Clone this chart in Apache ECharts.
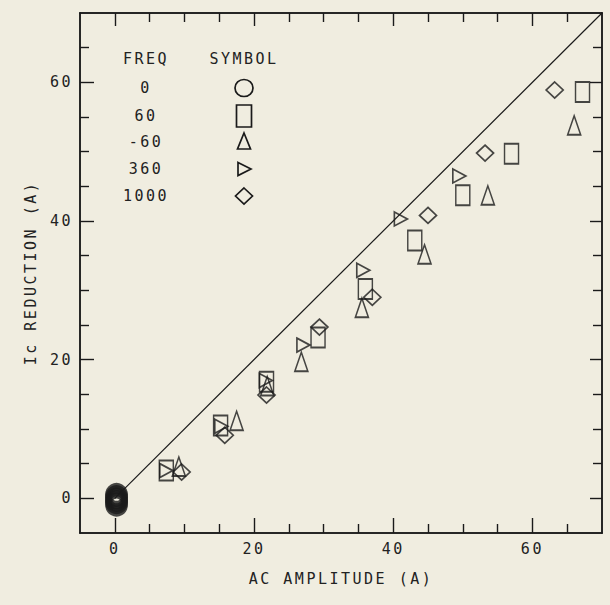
<!DOCTYPE html>
<html>
<head>
<meta charset="utf-8">
<script src="https://cdn.jsdelivr.net/npm/echarts@6/dist/echarts.min.js"></script>
<style>
  html, body { margin: 0; padding: 0; background: #f0ede0; }
  #chart { width: 610px; height: 605px; }
  /* plotter lettering is widely spaced */
  #chart text { letter-spacing: 2.5px; }
</style>
</head>
<body>
<div id="chart"></div>
<script>
// Axis tick positions (A)
const majorTicks = [0, 20, 40, 60];
const minorTicks = [5, 10, 15, 25, 30, 35, 45, 50, 55, 65];

// Ic reduction (A) versus AC amplitude (A), one list per frequency
const freq0 = [[0.25, 0.5], [0.25, 0.15], [0.25, -0.2], [0.25, -0.55], [0.25, -0.9]];
const freq60 = [[7.4, 4.0], [15.2, 10.5], [21.8, 16.8], [29.2, 23.2], [36.0, 30.2],
                [43.1, 37.2], [50.0, 43.7], [57.0, 49.7], [67.2, 58.6]];
const freqNeg60 = [[9.2, 4.6], [17.5, 11.2], [21.9, 16.2], [26.8, 19.7], [35.5, 27.5],
                   [44.5, 35.2], [53.6, 43.7], [66.0, 53.8]];
const freq360 = [[7.4, 4.0], [15.3, 10.4], [21.7, 17.0], [27.1, 22.1], [35.7, 32.9],
                 [41.1, 40.3], [49.5, 46.5]];
const freq1000 = [[9.6, 3.8], [15.8, 9.1], [21.8, 14.9], [29.4, 24.7], [37.0, 29.0],
                  [45.0, 40.8], [53.2, 49.8], [63.2, 58.9]];

// Ideal response: reduction equal to amplitude
const unityLine = [[0, 0], [70, 70]];

// Legend table rows
const legendHeader = ['FREQ', 'SYMBOL'];
const legendFreqs = ['0', '60', '-60', '360', '1000'];

const INK = '#1a1a1a';
const TEXT = '#222222';
const FONT = 'DejaVu Sans Mono';
const FONT_SIZE = 15;
const RIGHT_TRI = 'path://M0,0L10,5L0,10Z';

const chart = echarts.init(document.getElementById('chart'), null, { renderer: 'svg' });

function frameAxis(position, ticks, len, extra) {
  return Object.assign({
    type: 'value', position: position, min: -5, max: 70,
    axisLine: { show: true, onZero: false, lineStyle: { color: INK, width: 1.5 } },
    axisTick: { show: true, inside: true, length: len, customValues: ticks,
                lineStyle: { color: INK, width: 1.4 } },
    axisLabel: { show: false },
    splitLine: { show: false }
  }, extra || {});
}

const labelStyle = { color: TEXT, fontFamily: FONT, fontSize: FONT_SIZE };

const xAxes = [
  frameAxis('bottom', majorTicks, 15, {
    axisLabel: Object.assign({ show: true, customValues: majorTicks, margin: 8 }, labelStyle),
    name: 'AC AMPLITUDE (A)', nameLocation: 'middle', nameGap: 38,
    nameTextStyle: labelStyle
  }),
  frameAxis('bottom', minorTicks, 9),
  frameAxis('top', majorTicks, 13),
  frameAxis('top', minorTicks, 9)
];
const yAxes = [
  frameAxis('left', majorTicks, 14, {
    axisLabel: Object.assign({ show: true, customValues: majorTicks, margin: 7 }, labelStyle),
    name: 'Ic REDUCTION (A)', nameLocation: 'middle', nameGap: 42,
    nameTextStyle: labelStyle
  }),
  frameAxis('left', minorTicks, 9),
  frameAxis('right', majorTicks, 12),
  frameAxis('right', minorTicks, 9)
];

function scatter(name, data, symbol, size, lineWidth) {
  return {
    name: name, type: 'scatter', data: data, symbol: symbol, symbolSize: size,
    xAxisIndex: 0, yAxisIndex: 0, silent: true,
    itemStyle: { color: 'transparent', borderColor: INK, borderWidth: lineWidth || 1.7 }
  };
}

// Legend table drawn as text plus outline glyphs
const colText = 146, colSym = 244;
const rowY = [88, 116, 142, 169, 196];
const legendFont = FONT_SIZE + 'px ' + FONT;
const legendGraphics = [
  { type: 'text', x: colText, y: 59, style: { text: legendHeader[0], font: legendFont, fill: TEXT, textAlign: 'center', textVerticalAlign: 'middle' } },
  { type: 'text', x: colSym, y: 59, style: { text: legendHeader[1], font: legendFont, fill: TEXT, textAlign: 'center', textVerticalAlign: 'middle' } }
];
legendFreqs.forEach(function (f, i) {
  legendGraphics.push({ type: 'text', x: colText, y: rowY[i],
    style: { text: f, font: legendFont, fill: TEXT, textAlign: 'center', textVerticalAlign: 'middle' } });
});
const glyphStyle = { fill: 'none', stroke: INK, lineWidth: 1.7 };
legendGraphics.push(
  { type: 'ellipse', shape: { cx: colSym, cy: rowY[0], rx: 9, ry: 8.5 }, style: glyphStyle },
  { type: 'rect', shape: { x: colSym - 7.5, y: rowY[1] - 11, width: 15, height: 22 }, style: glyphStyle },
  { type: 'polygon', shape: { points: [[colSym, rowY[2] - 9], [colSym + 6.5, rowY[2] + 7], [colSym - 6.5, rowY[2] + 7]] }, style: glyphStyle },
  { type: 'polygon', shape: { points: [[colSym - 6, rowY[3] - 6.5], [colSym + 7, rowY[3]], [colSym - 6, rowY[3] + 6.5]] }, style: glyphStyle },
  { type: 'polygon', shape: { points: [[colSym, rowY[4] - 8], [colSym + 8.5, rowY[4]], [colSym, rowY[4] + 8], [colSym - 8.5, rowY[4]]] }, style: glyphStyle }
);

chart.setOption({
  backgroundColor: '#f0ede0',
  animation: false,
  grid: { left: 80, right: 8, top: 13, bottom: 72, containLabel: false },
  xAxis: xAxes,
  yAxis: yAxes,
  graphic: legendGraphics,
  series: [
    {
      type: 'line', data: unityLine, xAxisIndex: 0, yAxisIndex: 0,
      showSymbol: false, silent: true,
      lineStyle: { color: INK, width: 1.2 }
    },
    scatter('0', freq0, 'circle', [17, 18], 6),
    scatter('60', freq60, 'rect', [14, 20]),
    scatter('-60', freqNeg60, 'triangle', [13, 19]),
    scatter('360', freq360, RIGHT_TRI, [13, 14]),
    scatter('1000', freq1000, 'diamond', [17, 16])
  ]
});
</script>
</body>
</html>
